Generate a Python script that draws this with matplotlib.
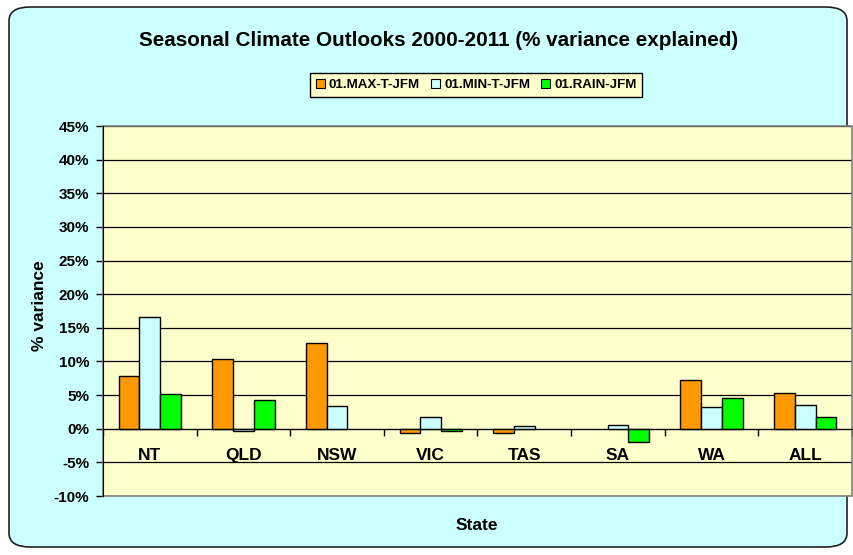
import matplotlib.pyplot as plt
import numpy as np
from matplotlib.patches import FancyBboxPatch, Rectangle, Patch
from matplotlib.ticker import FuncFormatter, FixedLocator

# Dados do gráfico
estados = ['NT', 'QLD', 'NSW', 'VIC', 'TAS', 'SA', 'WA', 'ALL']
max_t = [7.8, 10.3, 12.8, -0.7, -0.7, 0.0, 7.2, 5.3]
min_t = [16.6, -0.4, 3.4, 1.7, 0.4, 0.6, 3.2, 3.6]
rain = [5.1, 4.2, 0.0, -0.3, 0.0, -1.9, 4.6, 1.7]
series = ['01.MAX-T-JFM', '01.MIN-T-JFM', '01.RAIN-JFM']
cores = ['#FF9900', '#CCFFFF', '#00FF00']

fig = plt.figure(figsize=(8.54, 5.55), dpi=100)
fig.patch.set_facecolor('white')

# Fundo arredondado
fundo = FancyBboxPatch((9 / 854, 8 / 555), 838 / 854, 540 / 555,
                       boxstyle='round,pad=0,rounding_size=0.025',
                       transform=fig.transFigure, facecolor='#CCFFFF',
                       edgecolor='#222222', linewidth=1.2, zorder=-10)
fig.patches.append(fundo)

ax = fig.add_axes([103 / 854, 1 - 496 / 555, 749 / 854, 370 / 555])
ax.set_facecolor('#FFFFCC')

x = np.arange(len(estados))
w = 0.222
for i, (vals, cor) in enumerate(zip([max_t, min_t, rain], cores)):
    barras = ax.bar(x + (i - 1) * w, vals, width=w, color=cor, edgecolor='black',
                    linewidth=1.0, zorder=3)
    # barras com valor zero nao aparecem
    for b, v in zip(barras, vals):
        if v == 0:
            b.set_visible(False)

ax.set_xlim(-0.5, len(estados) - 0.5)
ax.set_ylim(-10, 45)
ax.set_yticks(np.arange(-10, 46, 5))
ax.yaxis.set_major_formatter(FuncFormatter(lambda v, p: f'{v:.0f}%'))
ax.grid(axis='y', color='black', linewidth=0.9, zorder=1)
ax.set_axisbelow(True)

for s in ['top', 'right']:
    ax.spines[s].set_visible(False)
ax.spines['left'].set_color('black')
ax.spines['bottom'].set_position(('data', 0))
ax.spines['bottom'].set_color('black')
ax.spines['bottom'].set_zorder(4)
ax.add_patch(Rectangle((0, 0), 1, 1, transform=ax.transAxes, fill=False,
                       edgecolor='#808080', linewidth=1.2, zorder=2,
                       clip_on=False))

ax.set_xticks(x)
ax.set_xticklabels(estados, fontsize=12.5, fontweight='bold', family='Liberation Sans')
ax.tick_params(axis='x', which='major', length=0, pad=14)
ax.xaxis.set_minor_locator(FixedLocator(np.arange(-0.5, len(estados), 1)))
ax.tick_params(axis='x', which='minor', length=5, direction='out', width=1)
ax.tick_params(axis='y', length=5, direction='out', width=1, labelsize=11, pad=5)
for t in ax.get_yticklabels():
    t.set_fontweight('bold')
    t.set_family('Liberation Sans')

fig.text(0.513, 1 - 40 / 555, 'Seasonal Climate Outlooks 2000-2011 (% variance explained)',
         ha='center', va='center', fontsize=14.9, fontweight='bold',
         family='Liberation Sans')
fig.text(476.5 / 854, 1 - 526 / 555, 'State', ha='center', va='center',
         fontsize=12.5, fontweight='bold', family='Liberation Sans')
fig.text(40 / 854, 1 - 306 / 555, '% variance', ha='center', va='center',
         rotation=90, fontsize=12.5, fontweight='bold', family='Liberation Sans')

handles = [Patch(facecolor=c, edgecolor='black', linewidth=0.8) for c in cores]
leg = fig.legend(handles, series, loc='center', ncol=3,
                 bbox_to_anchor=(476 / 854, 1 - 85 / 555),
                 prop={'weight': 'bold', 'size': 9.6, 'family': 'Liberation Sans'},
                 handlelength=0.7, handleheight=0.7, handletextpad=0.3,
                 columnspacing=0.8, fancybox=False, borderpad=0.45)
leg.get_frame().set_facecolor('#FFFFCC')
leg.get_frame().set_edgecolor('black')
leg.get_frame().set_linewidth(1.0)
leg.get_frame().set_alpha(1)

plt.savefig('out.png', dpi=100)
